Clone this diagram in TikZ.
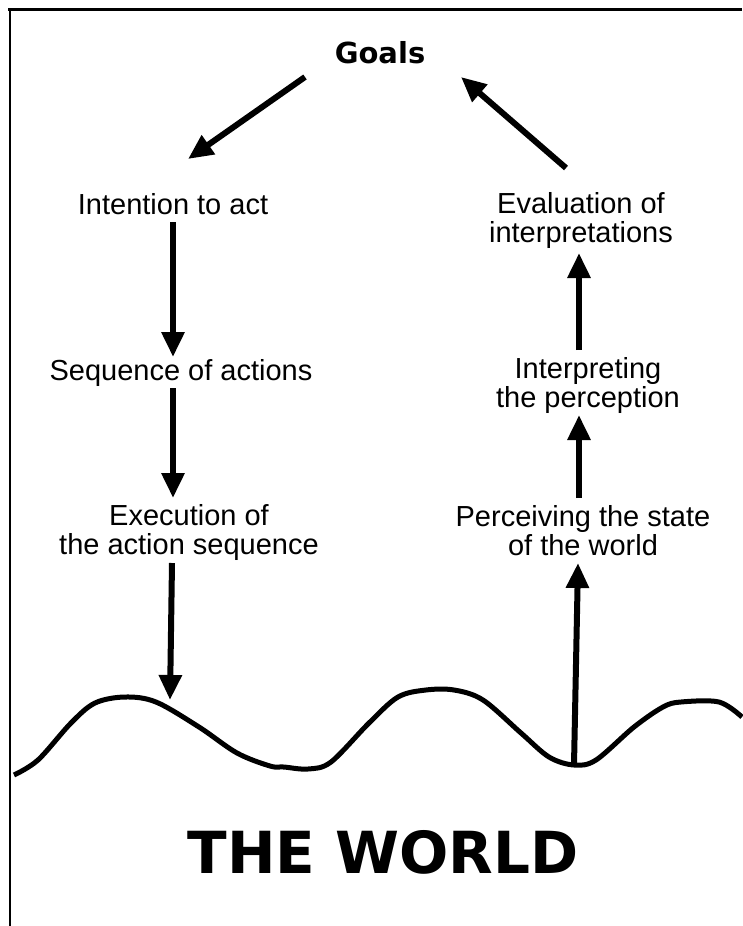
\documentclass[tikz,border=0pt]{standalone}
\usepackage{fontspec}
\setmainfont{Liberation Sans}
\newfontfamily\headfont{DejaVu Sans}
\usetikzlibrary{positioning,calc,arrows.meta}

\begin{document}
\begin{tikzpicture}[x=1pt,y=-1pt,every node/.style={stage},
				stage/.style={inner sep=0pt,outer sep=0pt,anchor=base,align=center,font=\fontsize{29}{29}\selectfont},
				goal/.style={stage,font=\headfont\bfseries\fontsize{29}{29}\selectfont},
				world/.style={stage,font=\headfont\bfseries\fontsize{58}{58}\selectfont},
				flow/.style={line width=6pt,-{Triangle[width=22pt,length=25pt]}},
				ground/.style={line width=5pt,line join=round,line cap=butt}]
				\useasboundingbox (0,0) rectangle (742,926);
				\draw[line width=3pt] (8,9) -- (742,9);
				\draw[line width=2pt] (10,8) -- (10,926);

				% multi-line nodes sit on the baseline of their last line
				\node (GOALS)  [goal] at (380,63)  {Goals};
				\node (INTENT)        at (173,214) {Intention to act};
				\node (SEQ)           at (181,380) {Sequence of actions};
				\node (EXEC)          at (189,554) {Execution of\\the action sequence};
				\node (EVAL)          at (581,242) {Evaluation of\\interpretations};
				\node (INTERP)        at (588,407) {Interpreting\\the perception};
				\node (PERC)          at (583,555) {Perceiving the state\\of the world};
				\node (WORLD)  [world] at (383,873) {THE WORLD};

				\coordinate (HIT) at (170,700);
				\coordinate (DIP) at (574,765);

				\draw[ground] plot[smooth,tension=0.55] coordinates {(14,775) (38,760) (71,723) (95,703) (125,697)
					(156,702) (199,727) (237,753) (270,766) (284,767) (308,769) (331,762) (369,723) (398,697)
					(426,690) (454,690) (483,700) (521,733) (549,757) (DIP) (596,760) (634,727) (663,707)
					(681,702) (719,702) (742,717)};

				\draw[flow] ([shift={(-75,14)}]GOALS.base) -- ([shift={(15,-55)}]INTENT.base);
				\draw[flow] ([shift={(0,8)}]INTENT.base) -- ([shift={(-8,-23)}]SEQ.base);
				\draw[flow] ([shift={(-8,8)}]SEQ.base) -- ([shift={(-16,-56)}]EXEC.base);
				\draw[flow] ([shift={(-17,9)}]EXEC.base) -- (HIT);
				\draw[flow] (DIP) -- ([shift={(-5,8)}]PERC.base);
				\draw[flow] ([shift={(-4,-57)}]PERC.base) -- ([shift={(-9,8)}]INTERP.base);
				\draw[flow] ([shift={(-9,-57)}]INTERP.base) -- ([shift={(-2,11)}]EVAL.base);
				\draw[flow] ([shift={(-15,-74)}]EVAL.base) -- ([shift={(81,14)}]GOALS.base);
			\end{tikzpicture}
\end{document}
